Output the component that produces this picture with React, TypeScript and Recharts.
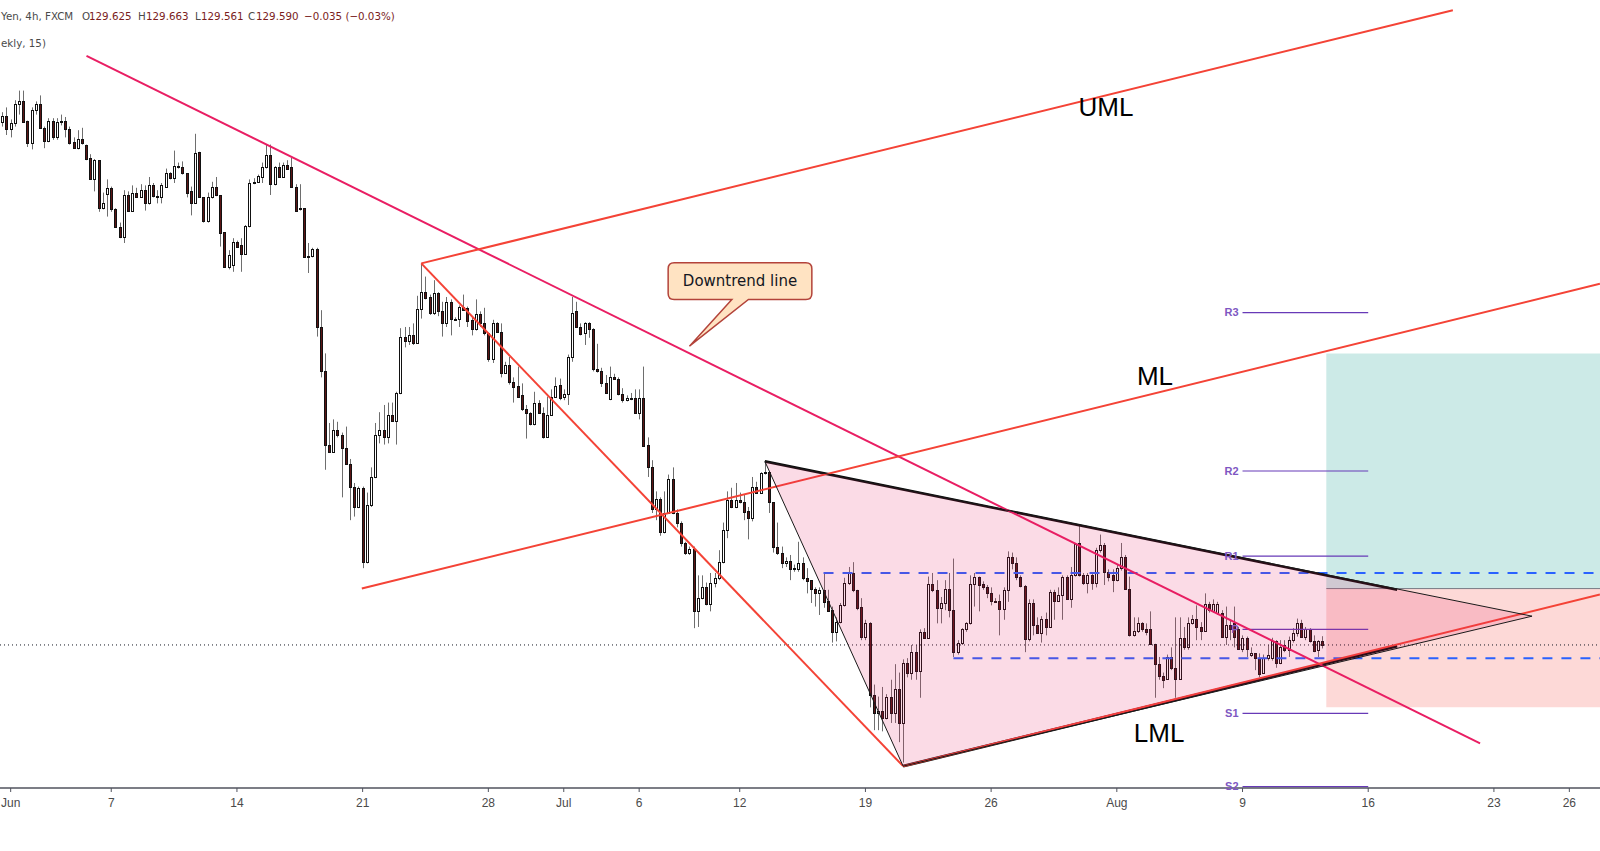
import { ComposedChart, XAxis, YAxis, Bar, Scatter, ReferenceLine, ReferenceArea } from 'recharts';

// EUR/JPY 4h candles, [open, high, low, close]; first two bars close out May 31
const juneBars = [
  [133.95,134.03,133.91,134.00],[134.00,134.07,133.84,133.89],[133.89,133.97,133.82,133.94],[133.94,134.13,133.91,134.10],
  [134.10,134.21,134.01,134.12],[134.12,134.21,133.94,133.95],[133.96,133.96,133.74,133.77],[133.77,134.07,133.72,134.05],
  [134.05,134.12,134.01,134.10],[134.10,134.17,133.90,133.90],[133.90,133.91,133.73,133.79],[133.79,133.98,133.78,133.96],
  [133.96,133.98,133.80,133.82],[133.82,133.98,133.80,133.95],[133.96,134.01,133.92,133.95],[133.96,133.99,133.82,133.89],
  [133.89,133.91,133.76,133.77],[133.78,133.82,133.73,133.73],[133.73,133.88,133.72,133.81],[133.81,133.90,133.76,133.77],
  [133.76,133.76,133.63,133.64],[133.65,133.68,133.47,133.47],[133.47,133.64,133.37,133.63],[133.63,133.63,133.20,133.23],
  [133.23,133.36,133.22,133.27],[133.35,133.47,133.16,133.40],[133.40,133.41,133.20,133.22],[133.22,133.23,133.07,133.07],
  [133.07,133.11,132.98,132.99],[132.99,133.38,132.94,133.34],[133.34,133.37,133.20,133.21],[133.21,133.42,133.20,133.36],
  [133.36,133.40,133.32,133.32],[133.32,133.43,133.32,133.38],[133.38,133.42,133.21,133.27],[133.27,133.49,133.26,133.42],
  [133.42,133.44,133.32,133.33],[133.33,133.38,133.27,133.32],[133.32,133.44,133.27,133.42],[133.41,133.56,133.41,133.52],
  [133.52,133.53,133.47,133.48],[133.48,133.71,133.44,133.58],[133.58,133.61,133.56,133.57],[133.57,133.62,133.51,133.52],
  [133.52,133.52,133.32,133.36],[133.37,133.41,133.17,133.27],[133.27,133.85,133.27,133.69],[133.70,133.70,133.32,133.32],
  [133.32,133.32,133.11,133.12],[133.12,133.36,133.11,133.32],[133.32,133.45,133.31,133.41],[133.41,133.49,133.33,133.34],
  [133.34,133.34,132.91,133.02],[133.03,133.03,132.74,132.74],[132.74,132.88,132.72,132.84],[132.76,132.98,132.70,132.95],
  [132.95,132.96,132.90,132.91],[132.92,132.98,132.70,132.85],[132.85,133.09,132.84,133.08],[133.08,133.47,133.07,133.44],
  [133.44,133.48,133.43,133.45],[133.45,133.51,133.44,133.50],[133.49,133.61,133.44,133.57],[133.57,133.76,133.56,133.67],
  [133.67,133.76,133.34,133.43],[133.43,133.58,133.42,133.57],[133.57,133.61,133.49,133.49],[133.49,133.61,133.49,133.59],
  [133.59,133.63,133.55,133.56],[133.57,133.65,133.41,133.41],[133.41,133.43,133.21,133.21],[133.22,133.43,133.21,133.23],
  [133.23,133.23,132.82,132.82],[132.82,132.94,132.69,132.83],[132.83,132.90,132.82,132.89],[132.89,132.90,132.16,132.24],
  [132.24,132.38,131.82,131.87],[131.87,132.02,131.05,131.26],[131.26,131.44,131.20,131.20],[131.20,131.47,131.20,131.38],
  [131.38,131.45,131.32,131.34],[131.34,131.36,130.82,131.23],[131.23,131.41,131.09,131.10],[131.10,131.14,130.63,130.91],
  [130.91,130.94,130.66,130.74],[130.74,130.91,130.73,130.90],[130.90,130.91,130.23,130.28],[130.28,130.86,130.27,130.76],
  [130.76,131.07,130.74,130.99],[130.99,131.44,130.98,131.34],[131.34,131.53,131.27,131.38],[131.38,131.59,131.26,131.32],
  [131.32,131.61,131.27,131.51],[131.51,131.61,131.45,131.46],[131.46,131.70,131.26,131.69],[131.69,132.23,131.68,132.16],
  [132.16,132.24,132.07,132.12],[132.12,132.24,132.09,132.17],[132.17,132.27,132.09,132.11],[132.11,132.50,132.10,132.39],
  [132.39,132.77,132.31,132.53],[132.53,132.66,132.47,132.48],[132.49,132.51,132.34,132.36],[132.36,132.63,132.34,132.52],
  [132.52,132.53,132.33,132.37],[132.37,132.45,132.16,132.27],[132.27,132.49,132.24,132.45],[132.45,132.47,132.17,132.31],
  [132.31,132.32,132.30,132.31],[132.31,132.42,132.24,132.41],[132.41,132.51,132.38,132.38],[132.40,132.41,132.24,132.29],
  [132.30,132.32,132.17,132.22],[132.22,132.47,132.21,132.35],[132.35,132.37,132.24,132.27],[132.27,132.40,132.17,132.19],
  [132.19,132.19,131.95,131.97],[131.97,132.30,131.94,132.27],[132.27,132.28,132.19,132.20],[132.20,132.27,131.82,131.86],
  [131.86,131.95,131.85,131.92],[131.92,131.99,131.76,131.78],[131.78,131.82,131.61,131.74],[131.75,131.91,131.66,131.66],
  [131.67,131.77,131.54,131.56],[131.56,131.59,131.31,131.52],[131.52,131.53,131.42,131.43],[131.43,131.70,131.42,131.61],
  [131.61,131.63,131.52,131.52],[131.52,131.57,131.31,131.32],[131.32,131.66,131.32,131.51],[131.51,131.72,131.50,131.66],
  [131.66,131.82,131.65,131.75],[131.76,131.81,131.63,131.65],
];

const julyBars = [
  [131.66,131.72,131.63,131.68],[131.68,132.01,131.59,131.99],[131.99,132.49,131.95,132.36],[132.37,132.45,132.24,132.24],
  [132.24,132.27,132.17,132.18],[132.19,132.28,132.09,132.27],[132.27,132.28,132.15,132.22],[132.22,132.23,131.87,131.89],
  [131.89,132.10,131.86,131.87],[131.87,131.90,131.74,131.77],[131.77,131.84,131.69,131.69],[131.64,131.91,131.63,131.82],
  [131.82,131.85,131.81,131.81],[131.81,131.82,131.67,131.68],[131.68,131.73,131.61,131.63],[131.63,131.67,131.62,131.65],
  [131.65,131.69,131.63,131.65],[131.65,131.72,131.52,131.52],[131.52,131.72,131.47,131.65],[131.65,131.91,131.24,131.25],
  [131.26,131.32,130.99,131.07],[131.07,131.13,130.69,130.72],[130.72,130.87,130.63,130.81],[130.81,130.82,130.50,130.53],
  [130.53,130.87,130.52,130.69],[130.69,131.01,130.69,130.97],[130.97,131.07,130.68,130.69],[130.69,130.72,130.57,130.61],
  [130.61,130.62,130.41,130.44],[130.44,130.45,130.34,130.36],[130.36,130.41,130.34,130.39],[130.39,130.41,129.73,129.87],
  [129.87,130.17,129.74,129.98],[129.98,130.17,129.97,130.07],[130.07,130.11,129.92,129.93],[129.93,130.19,129.87,130.11],
  [130.11,130.19,130.07,130.15],[130.15,130.38,130.13,130.28],[130.28,130.61,130.27,130.55],[130.55,130.87,130.48,130.80],
  [130.80,130.90,130.73,130.74],[130.74,130.94,130.73,130.80],[130.80,130.86,130.77,130.78],[130.78,130.84,130.63,130.70],
  [130.71,130.74,130.47,130.65],[130.65,130.99,130.62,130.91],[130.91,130.95,130.86,130.86],[130.86,131.03,130.85,131.02],
  [131.02,131.12,131.01,131.03],[131.03,131.03,130.69,130.78],[130.78,130.78,130.36,130.41],[130.41,130.61,130.34,130.36],
  [130.36,130.41,130.23,130.27],[130.27,130.32,130.24,130.29],[130.29,130.34,130.13,130.22],[130.23,130.26,130.20,130.22],
  [130.22,130.45,130.20,130.27],[130.27,130.32,130.13,130.15],[130.15,130.23,130.02,130.12],[130.13,130.13,129.94,130.06],
  [130.06,130.07,129.91,130.02],[130.02,130.07,129.84,130.05],[130.05,130.19,129.90,129.95],[129.96,130.05,129.87,129.87],
  [129.88,129.91,129.61,129.70],[129.70,129.82,129.62,129.78],[129.78,129.94,129.77,129.92],[129.92,130.15,129.91,130.11],
  [130.11,130.24,130.09,130.19],[130.19,130.28,130.03,130.05],[130.05,130.05,129.88,129.90],[129.91,129.98,129.63,129.66],
  [129.66,129.80,129.63,129.77],[129.77,129.78,129.07,129.17],[129.17,129.26,128.88,129.02],[129.02,129.16,128.88,129.04],
  [129.04,129.24,128.87,128.98],[128.98,129.18,128.97,129.16],[129.16,129.30,128.94,129.02],[129.02,129.43,128.94,129.22],
  [129.22,129.36,128.78,128.94],[128.94,129.47,128.61,129.44],[129.44,129.48,129.32,129.36],[129.36,129.59,129.30,129.53],
  [129.53,129.59,129.30,129.37],[129.37,129.72,129.15,129.70],[129.70,129.73,129.64,129.65],[129.65,130.16,129.64,130.10],
  [130.10,130.19,130.03,130.05],[130.05,130.13,129.77,129.90],[129.90,129.99,129.77,129.94],[129.94,130.13,129.88,130.06],
  [130.06,130.19,129.82,129.88],[129.88,130.31,129.49,129.53],[129.53,129.63,129.51,129.61],[129.61,129.73,129.59,129.72],
  [129.72,129.78,129.70,129.77],[129.77,130.17,129.76,130.10],[130.10,130.19,129.91,130.16],[130.16,130.16,129.87,130.09],
  [130.10,130.12,130.05,130.07],[130.07,130.09,129.98,130.02],[130.02,130.07,129.92,129.96],[129.96,129.98,129.94,129.96],
  [129.96,130.01,129.67,129.89],[129.89,130.07,129.80,130.05],[130.05,130.37,129.95,130.32],[130.32,130.36,130.22,130.27],
  [130.27,130.32,130.13,130.16],[130.16,130.17,130.07,130.08],[130.08,130.09,129.53,129.64],[129.64,129.97,129.62,129.94],
  [129.94,129.97,129.67,129.76],[129.76,129.82,129.69,129.69],[129.69,129.83,129.61,129.81],[129.81,129.86,129.67,129.74],
  [129.74,130.05,129.74,130.03],[130.03,130.05,129.80,129.96],[129.96,130.07,129.95,130.01],[130.01,130.17,129.80,130.16],
  [130.16,130.17,129.97,129.97],[129.97,130.24,129.90,130.17],[130.17,130.44,130.16,130.43],[130.44,130.59,130.16,130.17],
  [130.17,130.19,130.09,130.11],[130.11,130.19,130.02,130.17],[130.17,130.19,130.05,130.11],[130.11,130.40,130.07,130.38],
  [130.38,130.51,130.36,130.42],[130.42,130.44,130.09,130.20],[130.20,130.22,130.12,130.16],[130.17,130.22,130.03,130.13],
];

const augustBars = [
  [130.13,130.26,130.12,130.23],[130.23,130.44,130.21,130.32],[130.32,130.34,130.05,130.06],[130.06,130.16,129.66,129.67],
  [129.67,129.82,129.66,129.71],[129.71,129.82,129.69,129.77],[129.77,129.78,129.70,129.72],[129.72,129.77,129.67,129.70],
  [129.72,129.87,129.59,129.60],[129.60,129.60,129.15,129.43],[129.43,129.49,129.30,129.33],[129.33,129.36,129.23,129.30],
  [129.31,129.51,129.30,129.49],[129.49,129.57,129.38,129.40],[129.40,129.82,129.15,129.31],[129.31,129.82,129.30,129.65],
  [129.65,129.74,129.55,129.57],[129.57,129.82,129.55,129.77],[129.77,129.84,129.76,129.81],[129.81,129.92,129.63,129.74],
  [129.74,129.78,129.63,129.71],[129.71,130.02,129.70,129.93],[129.93,129.95,129.86,129.88],[129.87,129.97,129.86,129.93],
  [129.86,129.95,129.84,129.93],[129.86,129.88,129.65,129.66],[129.66,129.91,129.59,129.76],[129.76,129.80,129.63,129.72],
  [129.77,129.91,129.57,129.66],[129.72,129.74,129.55,129.56],[129.56,129.67,129.53,129.65],[129.65,129.66,129.49,129.56],
  [129.51,129.57,129.49,129.52],[129.52,129.52,129.38,129.48],[129.48,129.52,129.32,129.35],[129.36,129.51,129.35,129.48],
  [129.48,129.59,129.46,129.51],[129.48,129.65,129.46,129.62],[129.62,129.63,129.40,129.44],[129.44,129.63,129.43,129.57],
  [129.59,129.63,129.53,129.55],[129.55,129.66,129.49,129.63],[129.63,129.73,129.61,129.69],[129.69,129.81,129.66,129.77],
  [129.77,129.80,129.65,129.66],[129.66,129.74,129.63,129.72],[129.72,129.73,129.61,129.62],[129.62,129.67,129.53,129.54],
  [129.55,129.63,129.49,129.62],[129.625,129.663,129.561,129.59],
];

const candles = [...juneBars, ...julyBars, ...augustBars].map(([open, high, low, close], i) => ({ i, open, high, low, close }));

// time axis: 6 bars per trading day, bar 2 opens Jun 1
const tickDates = ['2021-06-01','2021-06-07','2021-06-14','2021-06-21','2021-06-28','2021-07-01','2021-07-06','2021-07-12','2021-07-19','2021-07-26','2021-08-02','2021-08-09','2021-08-16','2021-08-23','2021-08-26'];
const tickLabels = ['Jun','7','14','21','28','Jul','6','12','19','26','Aug','9','16','23','26'];
const BARS_PER_DAY = 6;
const JUN1_BAR = 2;

function tradingDays(from: string, to: string) {
  let n = 0;
  const d = new Date(from + 'T00:00:00Z');
  const end = new Date(to + 'T00:00:00Z');
  while (d < end) {
    const wd = d.getUTCDay();
    if (wd !== 0 && wd !== 6) n++;
    d.setUTCDate(d.getUTCDate() + 1);
  }
  return n;
}
const tickIdx = tickDates.map((d) => JUN1_BAR + BARS_PER_DAY * tradingDays('2021-06-01', d));
const tickText: Record<number, string> = {};
tickIdx.forEach((t, k) => { tickText[t] = tickLabels[k]; });

const X_DOMAIN: [number, number] = [-0.55, 381.32];
const PRICE_DOMAIN: [number, number] = [128.398, 134.965];
const LAST_PRICE = 129.59;

// drawings (bar index, price)
const downtrend = [{ x: 20.1, y: 134.5 }, { x: 352.7, y: 128.77 }];
const umlLine = [{ x: 100, y: 132.77 }, { x: 346.2, y: 134.88 }];
const mlLine = [{ x: 85.8, y: 130.06 }, { x: 381.3, y: 132.6 }];
const lmlLine = [{ x: 215, y: 128.58 }, { x: 381.3, y: 130.01 }];
const swingLine = [{ x: 100, y: 132.77 }, { x: 215, y: 128.58 }];
const wedgeTop = [{ x: 182, y: 131.12 }, { x: 332.9, y: 130.05 }];
const wedgeBottom = [{ x: 215, y: 128.58 }, { x: 332.9, y: 129.58 }];
const triangle = [{ i: 182, p: 131.12 }, { i: 215, p: 128.58 }, { i: 365.1, p: 129.83 }, { i: 182, p: 131.12 }];

const pivotNames = ['R3', 'R2', 'R1', 'P', 'S1', 'S2'];
const pivotValues = [132.36, 131.04, 130.33, 129.72, 129.02, 128.41];
const pivotWeek = ['2021-08-09', '2021-08-16'];

const rangeHigh = { from: 196, price: 130.19 };
const rangeLow = { from: 227, price: 129.48 };

const position = { start: 316, target: 132.02, entry: 130.06, stop: 129.07 };

const forkTags = [
  { i: 263.4, p: 134.07, text: 'UML' },
  { i: 275.1, p: 131.83, text: 'ML' },
  { i: 276.1, p: 128.86, text: 'LML' },
];
const calloutTip = [{ i: 164, p: 132.08 }];

const PINK = '#e91e63';
const RED = '#f44336';
const PURPLE = '#673ab7';
const BLUE = '#2962ff';

function Candle(props: any) {
  const { x, y, width, height, payload } = props;
  if (!payload || y == null) return null;
  const { open, high, low, close } = payload;
  const top = height >= 0 ? y : y + height;
  const h = Math.abs(height);
  const k = high > low ? h / (high - low) : 0;
  const toY = (v: number) => top + (high - v) * k;
  const px = Math.round(x + width / 2);
  const bTop = Math.round(toY(Math.max(open, close)));
  const bBot = Math.max(Math.round(toY(Math.min(open, close))), bTop + 1);
  const up = close >= open;
  return (
    <g>
      <line x1={px + 0.5} x2={px + 0.5} y1={top} y2={top + h} stroke="#6e6e6e" strokeWidth={1} />
      <rect x={px - 0.5} y={bTop + 0.5} width={2} height={bBot - bTop} fill={up ? '#ffffff' : '#5a1515'} stroke="#111" strokeWidth={1} />
    </g>
  );
}

function Callout({ cx, cy }: { cx: number; cy: number }) {
  const L = cx - 21.3, T = cy - 83.4, R = cx + 122.4, B = cy - 46.7, r = 6;
  const p1 = cx + 42.4, p2 = cx + 59;
  const d = `M${L + r},${T} H${R - r} Q${R},${T} ${R},${T + r} V${B - r} Q${R},${B} ${R - r},${B} H${p2} L${cx},${cy} L${p1},${B} H${L + r} Q${L},${B} ${L},${B - r} V${T + r} Q${L},${T} ${L + r},${T} Z`;
  return (
    <g>
      <path d={d} fill="#ffe3c2" stroke="#b3433a" strokeWidth={1.5} />
      <text x={(L + R) / 2} y={(T + B) / 2} textAnchor="middle" dominantBaseline="central" fontSize={15} fontFamily="'DejaVu Sans', Verdana, sans-serif" fill="#131722">
        Downtrend line
      </text>
    </g>
  );
}

function ForkTag(props: any) {
  const { cx, cy, payload } = props;
  return (
    <text x={cx} y={cy} textAnchor="middle" dominantBaseline="central" fontSize={26} fontFamily="'Liberation Sans', Arial, sans-serif" fill="#000">
      {payload.text}
    </text>
  );
}

const FONT = "'Liberation Sans', Arial, sans-serif";
const LEGEND_FONT = "'DejaVu Sans', Verdana, sans-serif";

export default function App() {
  const weekStart = JUN1_BAR + BARS_PER_DAY * tradingDays('2021-06-01', pivotWeek[0]);
  const weekEnd = JUN1_BAR + BARS_PER_DAY * tradingDays('2021-06-01', pivotWeek[1]);
  const xMax = X_DOMAIN[1];
  return (
    <div style={{ position: 'relative', width: 1600, height: 851, overflow: 'hidden', background: '#fff' }}>
      <style>{'body{margin:0;background:#fff}'}</style>
      <ComposedChart width={1600} height={851} data={candles} margin={{ top: 0, right: 0, bottom: 0, left: 0 }}>
        <XAxis
          dataKey="i"
          type="number"
          domain={X_DOMAIN}
          allowDataOverflow
          ticks={tickIdx}
          interval={0}
          tickFormatter={(v: number) => tickText[v] ?? ''}
          height={63}
          tickSize={4}
          tickMargin={6}
          tick={{ fill: '#4a4a4a', fontSize: 12, fontFamily: FONT }}
          tickLine={{ stroke: '#50535e' }}
          axisLine={{ stroke: '#50535e', strokeWidth: 1.5 }}
        />
        <YAxis hide type="number" domain={PRICE_DOMAIN} allowDataOverflow />

        <ReferenceArea x1={position.start} x2={xMax} y1={position.entry} y2={position.target} fill="rgba(0,150,136,0.2)" fillOpacity={1} stroke="none" ifOverflow="hidden" />
        <ReferenceArea x1={position.start} x2={xMax} y1={position.stop} y2={position.entry} fill="rgba(244,67,54,0.2)" fillOpacity={1} stroke="none" ifOverflow="hidden" />
        <ReferenceLine segment={[{ x: position.start, y: position.entry }, { x: xMax, y: position.entry }]} stroke="#787b86" strokeWidth={1} ifOverflow="hidden" />

        <Scatter
          data={triangle}
          dataKey="p"
          isAnimationActive={false}
          line={{ stroke: '#1a1a1a', strokeWidth: 1, fill: 'rgba(233,30,99,0.16)' }}
          lineJointType="linear"
          shape={() => <g />}
        />

        <Bar dataKey={(d: any) => [d.low, d.high]} barSize={3} shape={<Candle />} isAnimationActive={false} />

        {pivotNames.map((name, k) => (
          <ReferenceLine
            key={name}
            segment={[{ x: weekStart, y: pivotValues[k] }, { x: weekEnd, y: pivotValues[k] }]}
            stroke={PURPLE}
            strokeWidth={1.2}
            ifOverflow="hidden"
            label={{ value: name, position: 'left', offset: 4, fill: '#7e57c2', fontSize: 11, fontFamily: FONT, fontWeight: 600 }}
          />
        ))}

        <ReferenceLine y={LAST_PRICE} stroke="#131722" strokeDasharray="1 3" strokeWidth={1} />
        <ReferenceLine segment={[{ x: rangeHigh.from, y: rangeHigh.price }, { x: xMax, y: rangeHigh.price }]} stroke={BLUE} strokeWidth={2} strokeDasharray="10 9" ifOverflow="hidden" />
        <ReferenceLine segment={[{ x: rangeLow.from, y: rangeLow.price }, { x: xMax, y: rangeLow.price }]} stroke={BLUE} strokeWidth={2} strokeDasharray="10 9" ifOverflow="hidden" />

        <ReferenceLine segment={wedgeTop} stroke="#0a0a0a" strokeWidth={2.6} ifOverflow="hidden" />
        <ReferenceLine segment={wedgeBottom} stroke="#0a0a0a" strokeWidth={3} ifOverflow="hidden" />
        <ReferenceLine segment={downtrend} stroke={PINK} strokeWidth={2} ifOverflow="hidden" />
        <ReferenceLine segment={umlLine} stroke={RED} strokeWidth={2} ifOverflow="hidden" />
        <ReferenceLine segment={mlLine} stroke={RED} strokeWidth={2} ifOverflow="hidden" />
        <ReferenceLine segment={lmlLine} stroke={RED} strokeWidth={2} ifOverflow="hidden" />
        <ReferenceLine segment={swingLine} stroke={RED} strokeWidth={2} ifOverflow="hidden" />

        <Scatter data={forkTags} dataKey="p" isAnimationActive={false} shape={(p: any) => <ForkTag {...p} />} />
        <Scatter data={calloutTip} dataKey="p" isAnimationActive={false} shape={(p: any) => <Callout cx={p.cx} cy={p.cy} />} />
      </ComposedChart>

      <svg width={420} height={52} style={{ position: 'absolute', left: 0, top: 0, pointerEvents: 'none' }} fontFamily={LEGEND_FONT} fontSize={10.3}>
        <text y={20}>
          <tspan x={1} fill="#4a4a4a">Yen, 4h, FXCM</tspan>
          <tspan x={82} fill="#4a4a4a">O</tspan>
          <tspan x={89} fill="#7a1c1c">129.625</tspan>
          <tspan x={138} fill="#4a4a4a">H</tspan>
          <tspan x={146} fill="#7a1c1c">129.663</tspan>
          <tspan x={195} fill="#4a4a4a">L</tspan>
          <tspan x={201} fill="#7a1c1c">129.561</tspan>
          <tspan x={248} fill="#4a4a4a">C</tspan>
          <tspan x={256} fill="#7a1c1c">129.590</tspan>
          <tspan x={304} fill="#7a1c1c">−0.035 (−0.03%)</tspan>
        </text>
        <text x={1} y={47} fill="#4a4a4a">ekly, 15)</text>
      </svg>
    </div>
  );
}
